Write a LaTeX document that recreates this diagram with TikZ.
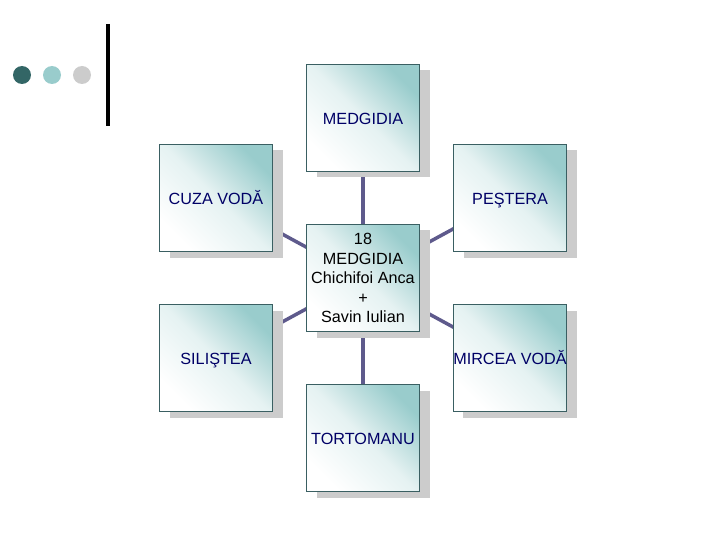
\documentclass[tikz,border=0pt]{standalone}
\usepackage{fontspec}
\setmainfont{Liberation Sans}
\usetikzlibrary{positioning,shadows,backgrounds}
\definecolor{tealdark}{HTML}{336666}
\definecolor{teallight}{HTML}{99CCCC}
\definecolor{dotgray}{HTML}{CCCCCC}
\definecolor{boxline}{HTML}{3A5F62}
\definecolor{linkcol}{HTML}{5E5A8C}
\definecolor{navy}{HTML}{000066}
\begin{document}
\begin{tikzpicture}[
  x=1pt, y=-1pt,
  town/.style={rectangle, draw=boxline, line width=0.8pt, minimum width=113pt, minimum height=107pt,
    inner sep=0pt, shading=axis, top color=teallight, bottom color=white, middle color=white!75!teallight,
    shading angle=-45, text=navy, text height=13.5pt, text depth=0pt,
    drop shadow={shadow xshift=10pt, shadow yshift=-6pt, fill=black!20, opacity=1}},
  link/.style={draw=linkcol, line width=3.5pt},
  dot/.style={circle, minimum size=18pt, inner sep=0pt},
  node distance=80pt and 147pt, on grid,
  font=\fontsize{16.2}{19.5}\selectfont
]
\useasboundingbox (0,0) rectangle (720,540);
% bullets and bar
\node[dot, fill=tealdark] (d1) at (22,75) {};
\node[dot, fill=teallight, right=30pt of d1] (d2) {};
\node[dot, fill=dotgray, right=30pt of d2] (d3) {};
\draw[line width=4pt] (108,24) -- (108,126);

\node[town, text=black, align=center, text height=, text depth=] (centre) at (363,278) {18\\MEDGIDIA\\Chichifoi Anca\\+\\Savin Iulian};
\node[town, above=160pt of centre] (medgidia) {MEDGIDIA};
\node[town, below=160pt of centre] (tortomanu) {TORTOMANU};
\node[town, above left=of centre] (cuza) {CUZA VODĂ};
\node[town, above right=of centre] (pestera) {PEŞTERA};
\node[town, below left=of centre] (silistea) {SILIŞTEA};
\node[town, below right=of centre] (mircea) {MIRCEA VODĂ};

\begin{scope}[on background layer]
\draw[link] (centre.center) -- (medgidia.center);
\draw[link] (centre.center) -- (tortomanu.center);
\draw[link] (centre.center) -- (cuza.center);
\draw[link] (centre.center) -- (pestera.center);
\draw[link] (centre.center) -- (silistea.center);
\draw[link] (centre.center) -- (mircea.center);
\end{scope}
\end{tikzpicture}
\end{document}
